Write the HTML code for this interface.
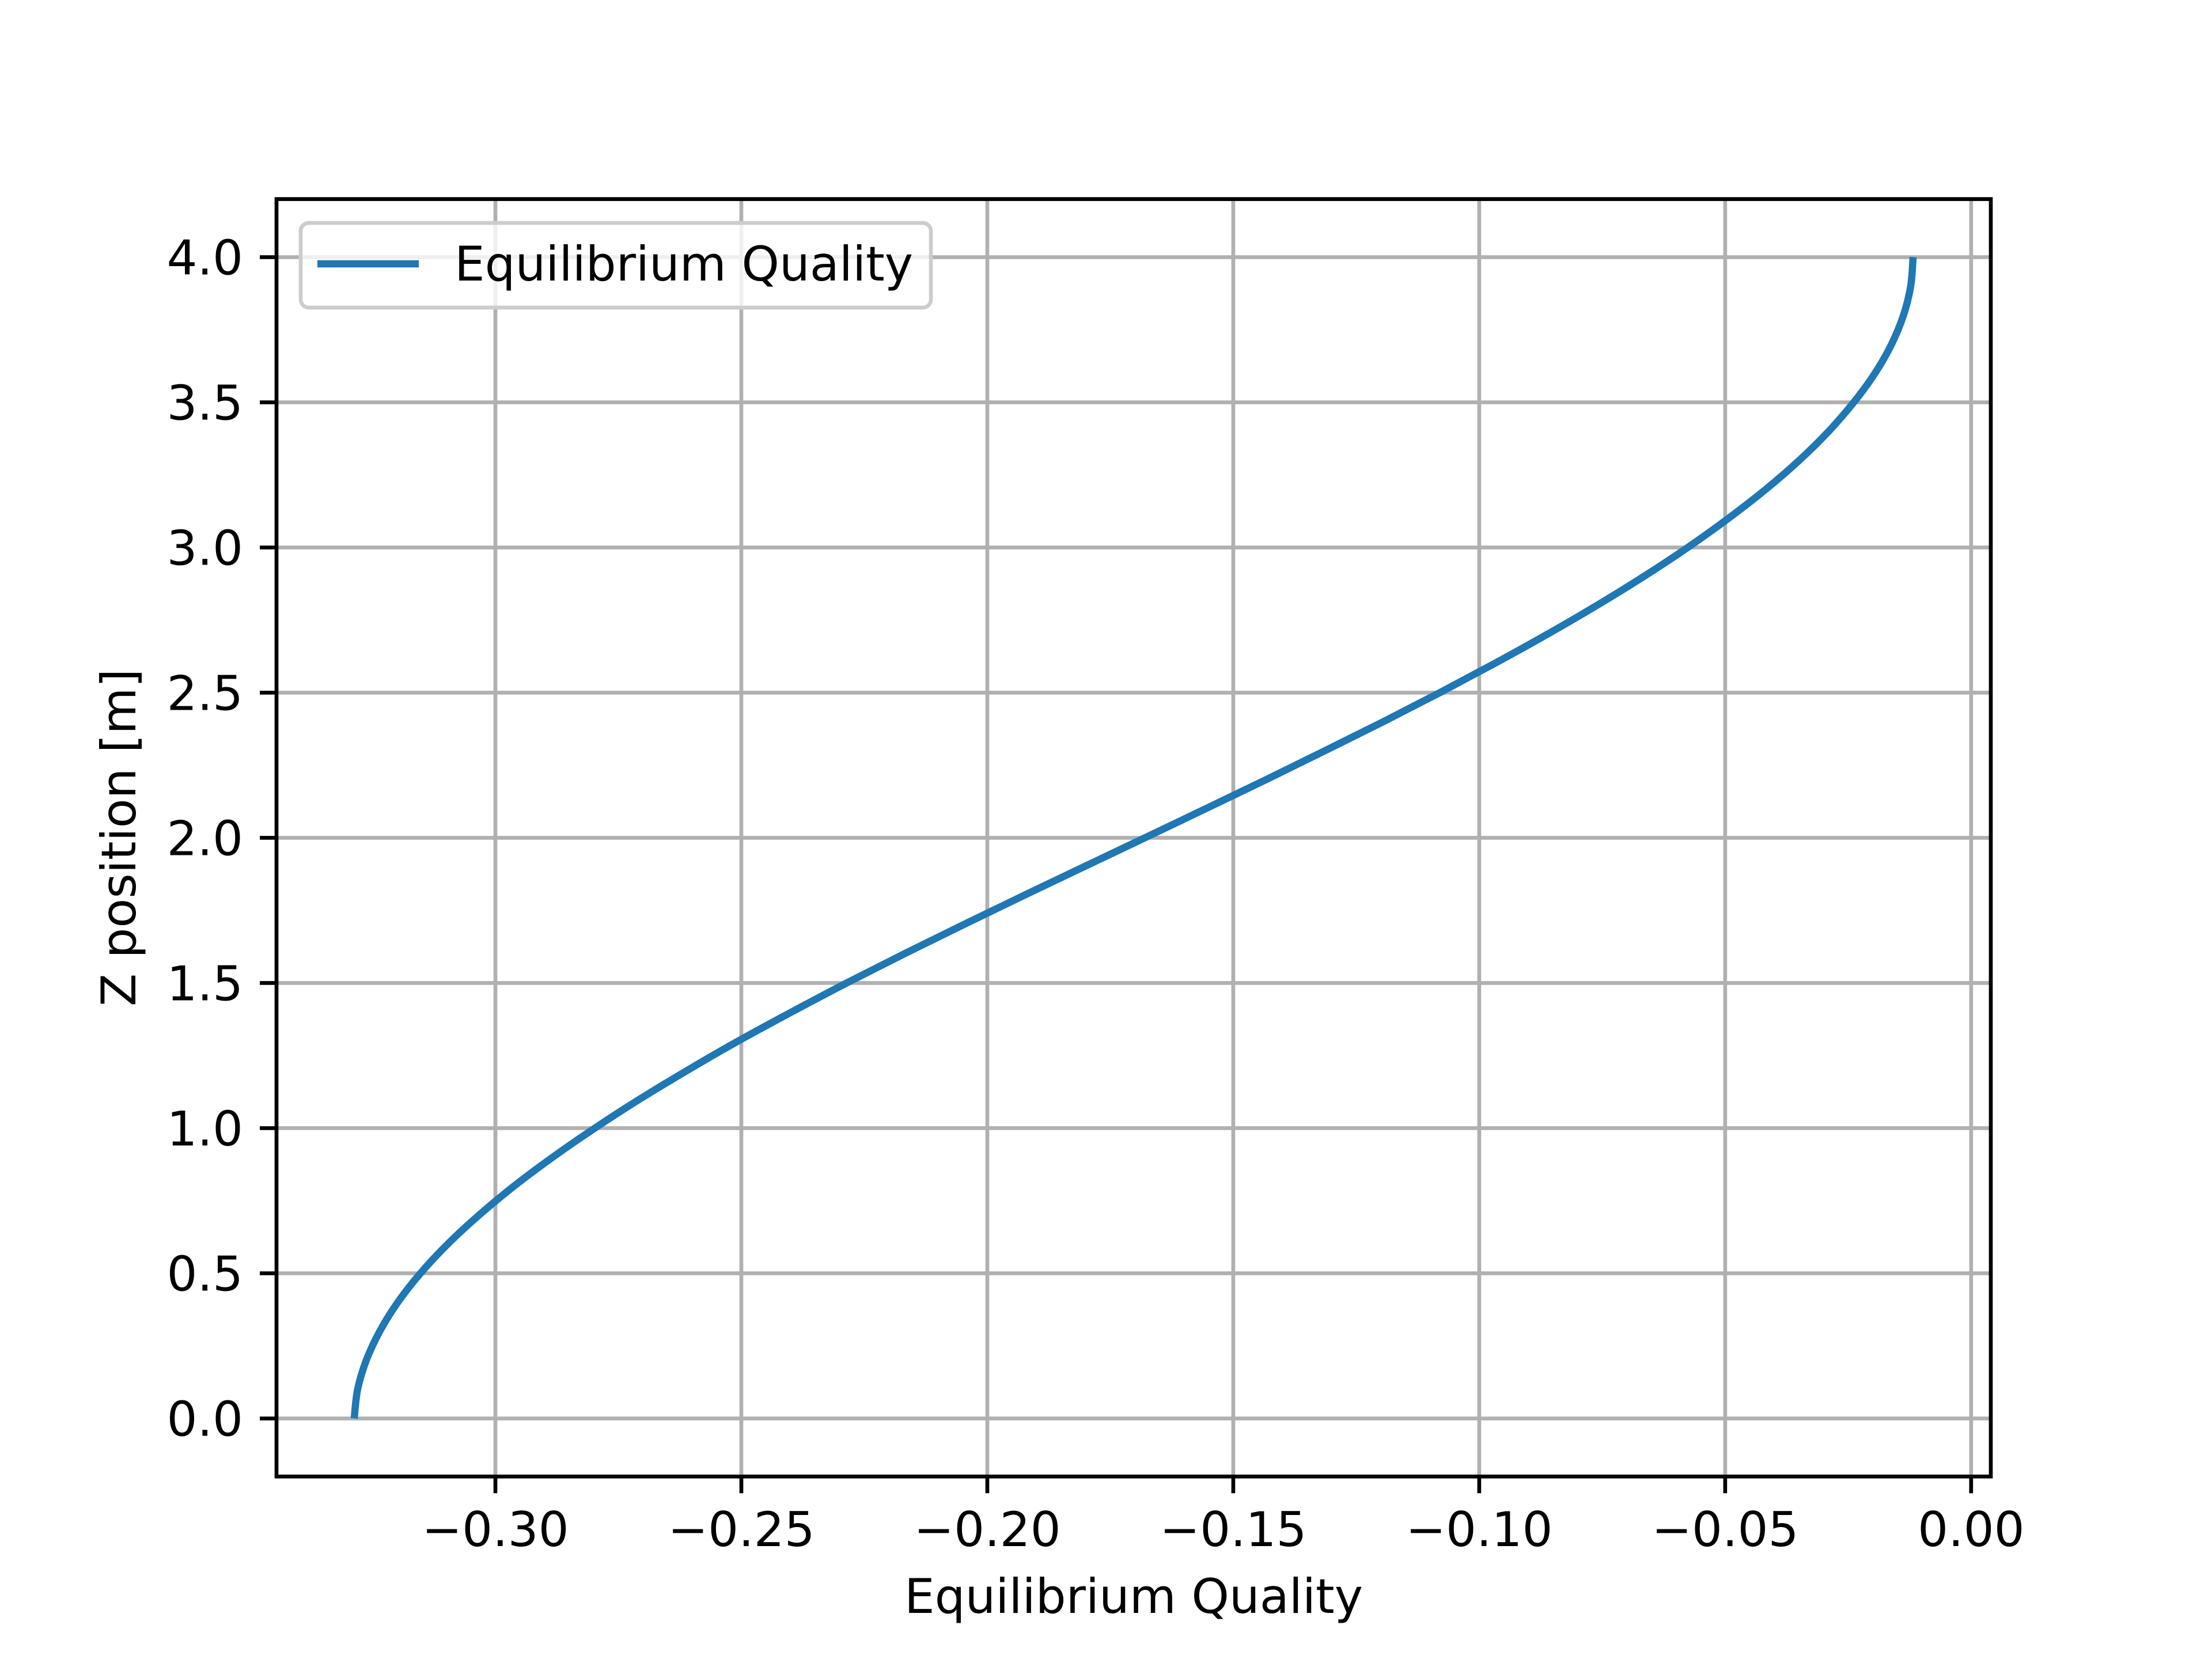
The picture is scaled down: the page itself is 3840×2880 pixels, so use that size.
<!DOCTYPE html>
<html><head><meta charset="utf-8">
<style>html,body{margin:0;padding:0;background:#fff}svg{display:block}text{font-family:"DejaVu Sans","Liberation Sans",sans-serif;font-size:83.3px;fill:#000}</style>
</head><body>
<svg id="chart" width="3840" height="2880" viewBox="0 0 3840 2880" xmlns="http://www.w3.org/2000/svg">
<rect width="3840" height="2880" fill="#fff"/>
<g id="grid"></g>
<g id="series"></g>
<rect x="480" y="345.6" width="2976" height="2217.6" fill="none" stroke="#000" stroke-width="6.67"/>
<g id="ticks"></g>
<text x="1968" y="2800" text-anchor="middle">Equilibrium Quality</text>
<text transform="translate(235,1454) rotate(-90)" text-anchor="middle">Z position [m]</text>
<g>
<rect x="522" y="387" width="1094" height="147" rx="14" fill="#fff" fill-opacity="0.8" stroke="#cccccc" stroke-width="6.67"/>
<line x1="551" y1="458" x2="727" y2="458" stroke="#1f77b4" stroke-width="12.5"/>
<text x="789" y="487">Equilibrium Quality</text>
</g>
</svg>
<script>
const zValues = [0,0.1,0.2,0.3,0.4,0.5,0.6,0.7,0.8,0.9,1.0,1.1,1.2,1.3,1.4,1.5,1.6,1.7,1.8,1.9,2.0,2.1,2.2,2.3,2.4,2.5,2.6,2.7,2.8,2.9,3.0,3.1,3.2,3.3,3.4,3.5,3.6,3.7,3.8,3.9,4.0];
const qualityValues = [-0.32870,-0.32801,-0.32625,-0.32352,-0.31985,-0.31524,-0.30973,-0.30335,-0.29624,-0.28834,-0.27979,-0.27065,-0.26088,-0.25064,-0.23978,-0.22859,-0.21691,-0.20494,-0.19274,-0.18038,-0.16795,-0.15562,-0.14336,-0.13136,-0.11949,-0.10801,-0.09692,-0.08626,-0.07612,-0.06655,-0.05761,-0.04936,-0.04176,-0.03495,-0.02897,-0.02386,-0.01955,-0.01618,-0.01375,-0.01229,-0.01180];
const xTicks = [-0.30,-0.25,-0.20,-0.15,-0.10,-0.05,0.00];
const xTickLabels = ["−0.30","−0.25","−0.20","−0.15","−0.10","−0.05","0.00"];
const yTicks = [0,0.5,1,1.5,2,2.5,3,3.5,4];
const yTickLabels = ["0.0","0.5","1.0","1.5","2.0","2.5","3.0","3.5","4.0"];

const L=480,R=3456,T=345.6,B=2563.2;
const xmin=-0.3445,xmax=0.0040,ymin=-0.2,ymax=4.2;
const sx=v=>L+(v-xmin)/(xmax-xmin)*(R-L);
const sy=v=>B-(v-ymin)/(ymax-ymin)*(B-T);
const NS="http://www.w3.org/2000/svg";
function mk(tag,attrs,parent){const e=document.createElementNS(NS,tag);for(const k in attrs)e.setAttribute(k,attrs[k]);parent.appendChild(e);return e;}
const grid=document.getElementById('grid'),ticks=document.getElementById('ticks'),series=document.getElementById('series');
xTicks.forEach((v,i)=>{
  const x=sx(v);
  const g=mk('line',{x1:x,y1:T,x2:x,y2:B,stroke:'#b0b0b0','stroke-width':6.67},grid);
  
  
  const t=mk('line',{x1:x,y1:B,x2:x,y2:B+29,stroke:'#000','stroke-width':6.67},ticks);
  
  
  const l=mk('text',{x:x,y:B+29+29+63,'text-anchor':'middle'},ticks);
  l.textContent=xTickLabels[i];
  
  
});
yTicks.forEach((v,i)=>{
  const y=sy(v);
  const g=mk('line',{x1:L,y1:y,x2:R,y2:y,stroke:'#b0b0b0','stroke-width':6.67},grid);
  
  
  const t=mk('line',{x1:L-29,y1:y,x2:L,y2:y,stroke:'#000','stroke-width':6.67},ticks);
  
  
  const l=mk('text',{x:L-29-29,y:y+30,'text-anchor':'end'},ticks);
  l.textContent=yTickLabels[i];
  
  
});
const P=zValues.map((z,i)=>[sx(qualityValues[i]),sy(z)]);
let d='M'+P[0][0].toFixed(1)+','+P[0][1].toFixed(1);
for(let i=0;i<P.length-1;i++){
  const p0=P[Math.max(0,i-1)],p1=P[i],p2=P[i+1],p3=P[Math.min(P.length-1,i+2)];
  const c1x=p1[0]+(p2[0]-p0[0])/6,c1y=p1[1]+(p2[1]-p0[1])/6;
  const c2x=p2[0]-(p3[0]-p1[0])/6,c2y=p2[1]-(p3[1]-p1[1])/6;
  d+=' C'+c1x.toFixed(1)+','+c1y.toFixed(1)+' '+c2x.toFixed(1)+','+c2y.toFixed(1)+' '+p2[0].toFixed(1)+','+p2[1].toFixed(1);
}
const pl=mk('path',{d:d,fill:'none',stroke:'#1f77b4','stroke-width':12.5,'stroke-linejoin':'round'},series);


</script>
</body></html>
